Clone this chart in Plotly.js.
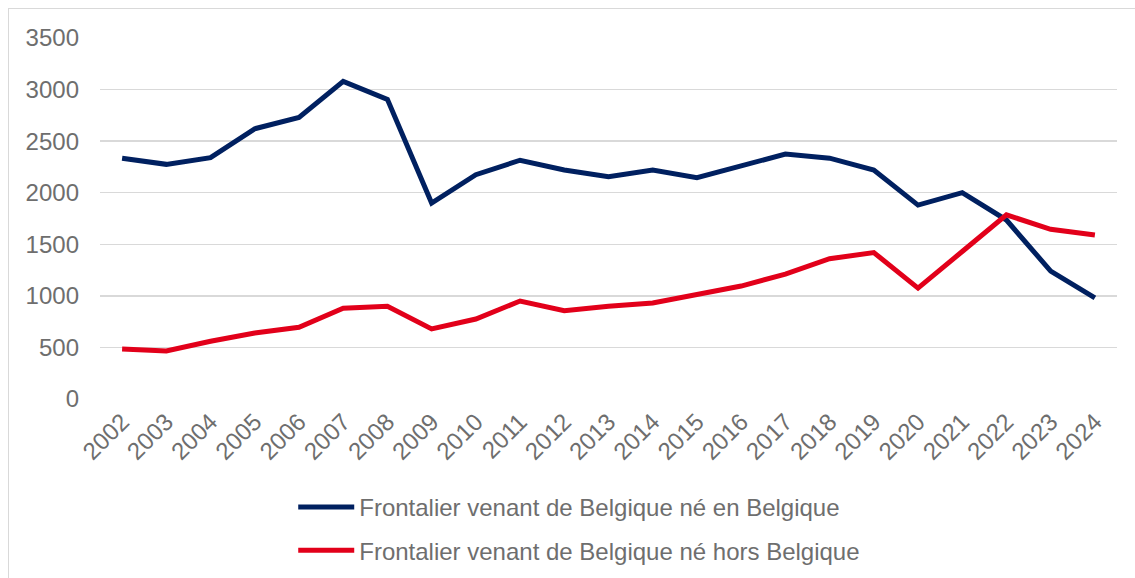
<!DOCTYPE html>
<html>
<head>
<meta charset="utf-8">
<script src="https://cdn.plot.ly/plotly-3.0.1.min.js"></script>
<style>
  html, body { margin: 0; padding: 0; background: #fff; overflow: hidden; }
  #wrap { position: relative; width: 1135px; height: 578px; overflow: hidden; }
  #chart { position: absolute; left: 0; top: 0; width: 1135px; height: 578px; }
  #frame { position: absolute; left: 8px; top: 8px; width: 1200px; height: 700px;
           border: 1.5px solid #d9d9d9; pointer-events: none; }
</style>
</head>
<body>
<div id="wrap">
  <div id="chart"></div>
  <div id="frame"></div>
</div>
<script>
const years = ["2002","2003","2004","2005","2006","2007","2008","2009","2010","2011","2012",
               "2013","2014","2015","2016","2017","2018","2019","2020","2021","2022","2023","2024"];
const bornInBelgium = [2335, 2275, 2340, 2620, 2730, 3080, 2905, 1900, 2175, 2315, 2220,
                       2155, 2220, 2145, 2260, 2375, 2335, 2220, 1880, 2000, 1735, 1240, 980];
const bornOutsideBelgium = [485, 465, 560, 640, 695, 880, 900, 680, 775, 950, 855,
                            900, 930, 1010, 1095, 1210, 1360, 1420, 1075, 1430, 1785, 1645, 1590];
const seriesNames = ["Frontalier venant de Belgique né en Belgique",
                     "Frontalier venant de Belgique né hors Belgique"];
const yTicks = [0, 500, 1000, 1500, 2000, 2500, 3000, 3500];

const FONT = "Liberation Sans, Arial, sans-serif";
const GREY = "#6e6e6e";
const FS = 24;

const traces = [
  { x: years, y: bornInBelgium, name: seriesNames[0], type: "scatter", mode: "lines",
    legendgroup: "a",
    line: { color: "#002060", width: 5 } },
  { x: years, y: bornOutsideBelgium, name: seriesNames[1], type: "scatter", mode: "lines",
    legendgroup: "b",
    line: { color: "#e2001a", width: 5 } }
];

// paper box: y from 38 (top) to 578 (bottom) => 540 px tall
const layout = {
  width: 1135, height: 578,
  margin: { l: 100, r: 18, t: 38, b: 0 },
  paper_bgcolor: "#fff", plot_bgcolor: "#fff",
  font: { family: FONT, color: GREY, size: FS },
  showlegend: true,
  legend: {
    orientation: "v", x: 0.19, xanchor: "left", y: 0.1722, yanchor: "top",
    font: { family: FONT, size: FS, color: GREY },
    traceorder: "grouped", tracegroupgap: 9,
    itemwidth: 56,
    bgcolor: "rgba(0,0,0,0)"
  },
  xaxis: {
    type: "category", range: [-0.5, years.length - 0.5],
    showgrid: false, zeroline: false, showline: false, ticks: "",
    tickangle: -45, tickfont: { family: FONT, size: FS, color: GREY },
    ticklabelstandoff: 3,
    automargin: false,
    fixedrange: true
  },
  yaxis: {
    domain: [0.3315, 1],
    range: [0, 3500], tickvals: yTicks, ticktext: yTicks.map(String),
    showgrid: true, gridcolor: "#d9d9d9", gridwidth: 1.5,
    zeroline: false, showline: false, ticks: "",
    ticklabelstandoff: 20,
    tickfont: { family: FONT, size: FS, color: GREY },
    automargin: false,
    fixedrange: true
  }
};

Plotly.newPlot("chart", traces, layout, { displayModeBar: false, staticPlot: true });
</script>
</body>
</html>
